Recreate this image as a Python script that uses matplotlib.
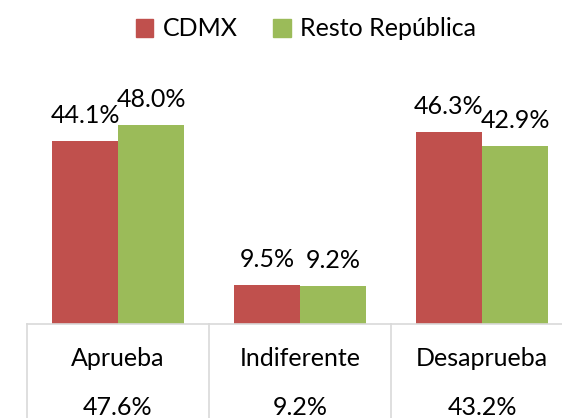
import matplotlib
matplotlib.use("Agg")
import matplotlib.pyplot as plt
import numpy as np
from matplotlib.lines import Line2D
from matplotlib.patches import Patch
from matplotlib.transforms import blended_transform_factory

# data
categories = ["Aprueba", "Indiferente", "Desaprueba"]
cdmx = [44.1, 9.5, 46.3]
resto = [48.0, 9.2, 42.9]
total = [47.6, 9.2, 43.2]
series_names = ["CDMX", "Resto República"]

RED = "#C0504D"
GREEN = "#9BBB59"
GRID = "#D9D9D9"
FS = 18

plt.rcParams['font.family'] = ['Lato', 'DejaVu Sans']

W, H = 562, 418
fig = plt.figure(figsize=(W / 100, H / 100), dpi=100)

# axes runs past the right edge, like the cropped original
left_px, right_px = 27, 573
top_px, base_px = 60, 324
ax = fig.add_axes([left_px / W, 1 - base_px / H,
                   (right_px - left_px) / W, (base_px - top_px) / H])

x = np.arange(len(categories))
bw = 66 / 182
b1 = ax.bar(x - bw / 2, cdmx, bw, color=RED, label=series_names[0])
b2 = ax.bar(x + bw / 2, resto, bw, color=GREEN, label=series_names[1])

ppu = 4.15  # pixels per percent
ax.set_ylim(0, (base_px - top_px) / ppu)
ax.set_xlim(-0.5, len(categories) - 0.5)

for bars in (b1, b2):
    for rect in bars:
        h = rect.get_height()
        ax.annotate(f"{h:.1f}%", (rect.get_x() + rect.get_width() / 2, h),
                    xytext=(0, 13), textcoords="offset points",
                    ha="center", va="baseline", fontsize=FS)

ax.set_xticks([])
ax.set_yticks([])
for s in ("top", "right", "left"):
    ax.spines[s].set_visible(False)
ax.spines["bottom"].set_color(GRID)
ax.spines["bottom"].set_linewidth(1.2)

# table-like category axis under the bars
tr = blended_transform_factory(ax.transData, fig.transFigure)
for xv in np.arange(len(categories) + 1) - 0.5:
    fig.add_artist(Line2D([xv, xv], [0, 1 - base_px / H], transform=tr,
                          color=GRID, lw=1.2, clip_on=False))
for i, cat in enumerate(categories):
    ax.text(i, 1 - 366 / H, cat, transform=tr, ha="center", va="baseline",
            fontsize=FS)
    ax.text(i, 1 - 415 / H, f"{total[i]:.1f}%", transform=tr, ha="center",
            va="baseline", fontsize=FS)

handles = [Patch(color=RED, label=series_names[0]),
           Patch(color=GREEN, label=series_names[1])]
fig.legend(handles=handles, loc="upper center", bbox_to_anchor=(306 / W, 1.0),
           ncol=2, frameon=False, fontsize=FS, handlelength=0.7,
           handleheight=0.7, handletextpad=0.4, columnspacing=1.4,
           borderaxespad=0.3)

fig.savefig("out.png", dpi=100)
